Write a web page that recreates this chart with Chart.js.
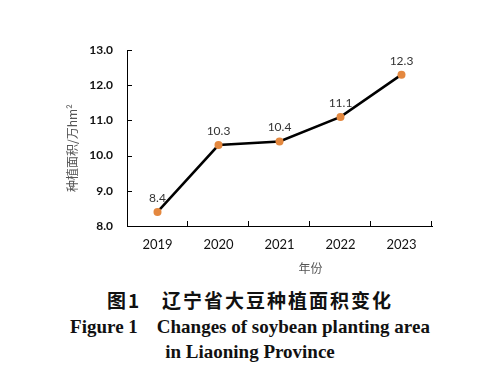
<!DOCTYPE html>
<html>
<head>
<meta charset="utf-8">
<script src="https://cdn.jsdelivr.net/npm/chart.js@4"></script>
<style>
  html,body{margin:0;padding:0;background:#fff;}
  #wrap{position:relative;width:500px;height:379px;overflow:hidden;background:#fff;}
  #cv{position:absolute;left:0;top:0;}
  .cap{position:absolute;left:0;width:500px;text-align:center;color:#111;white-space:pre;}
  #c1{top:287px;font:bold 19px "Noto Sans CJK SC";line-height:26px;letter-spacing:2px;}
  #c2{top:314px;font:bold 19px "Liberation Serif";line-height:26px;}
  #c3{top:339px;font:bold 19px "Liberation Serif";line-height:26px;}
</style>
</head>
<body>
<div id="wrap">
  <canvas id="cv" width="500" height="280"></canvas>
  <div class="cap" id="c1">图1　辽宁省大豆种植面积变化</div>
  <div class="cap" id="c2">Figure 1    Changes of soybean planting area</div>
  <div class="cap" id="c3">in Liaoning Province</div>
</div>
<script>
const categories = ['2019', '2020', '2021', '2022', '2023'];
const areaValues = [8.4, 10.3, 10.4, 11.1, 12.3];
const yTickValues = [8, 9, 10, 11, 12, 13];
const yTitle = '种植面积/万hm²';
const xTitle = '年份';

const extras = {
  id: 'extras',
  afterDraw(chart) {
    const ctx = chart.ctx;
    const x = chart.scales.x, y = chart.scales.y;
    const ca = chart.chartArea;
    ctx.save();
    ctx.strokeStyle = '#000';
    ctx.lineWidth = 1;
    yTickValues.forEach(v => {
      const py = Math.round(y.getPixelForValue(v)) + 0.5;
      ctx.beginPath();
      ctx.moveTo(ca.left, py);
      ctx.lineTo(ca.left + 5, py);
      ctx.stroke();
    });
    for (let i = 0; i < categories.length; i++) {
      let bx;
      if (i < categories.length - 1) {
        bx = (x.getPixelForValue(i) + x.getPixelForValue(i + 1)) / 2;
      } else {
        bx = ca.right;
      }
      bx = Math.round(bx) - 0.5;
      ctx.beginPath();
      ctx.moveTo(bx, ca.bottom);
      ctx.lineTo(bx, ca.bottom - 5);
      ctx.stroke();
    }
    const meta = chart.getDatasetMeta(0);
    ctx.fillStyle = '#333';
    ctx.font = '12px Lato';
    ctx.textAlign = 'center';
    ctx.textBaseline = 'middle';
    meta.data.forEach((pt, i) => {
      ctx.fillText(areaValues[i].toFixed(1), pt.x, pt.y - 14);
    });
    ctx.fillStyle = '#555';
    ctx.font = '12px "Noto Sans CJK SC"';
    ctx.fillText(xTitle, (ca.left + ca.right) / 2 + 31, 268);
    ctx.translate(72, (ca.top + ca.bottom) / 2 + 10);
    ctx.rotate(-Math.PI / 2);
    ctx.fillText(yTitle, 0, 0);
    ctx.restore();
  }
};

new Chart(document.getElementById('cv'), {
  type: 'line',
  data: {
    labels: categories,
    datasets: [{
      data: areaValues,
      borderColor: '#000',
      borderWidth: 2.5,
      tension: 0,
      pointRadius: 4,
      pointBackgroundColor: '#E4883F',
      pointBorderColor: '#E4883F',
      pointBorderWidth: 0
    }]
  },
  options: {
    responsive: false,
    animation: false,
    devicePixelRatio: 1,
    layout: { padding: { left: 60, right: 68, top: 50, bottom: 0 } },
    plugins: { legend: { display: false }, tooltip: { enabled: false } },
    scales: {
      x: {
        offset: true,
        grid: { drawOnChartArea: false, drawTicks: false },
        border: { display: true, color: '#000', width: 1 },
        ticks: { color: '#111', font: { family: 'Lato', size: 13 }, padding: 11 },
        afterFit(s) { s.height = 54; }
      },
      y: {
        min: 8, max: 13,
        afterBuildTicks(s) { s.ticks = yTickValues.map(v => ({ value: v })); },
        grid: { drawOnChartArea: false, drawTicks: false },
        border: { display: true, color: '#000', width: 1 },
        ticks: {
          color: '#111',
          font: { family: 'Lato', size: 12, weight: 'bold' },
          padding: 14,
          callback: v => Number(v).toFixed(1)
        },
        afterFit(s) { s.width = 67; }
      }
    }
  },
  plugins: [extras]
});
</script>
</body>
</html>
